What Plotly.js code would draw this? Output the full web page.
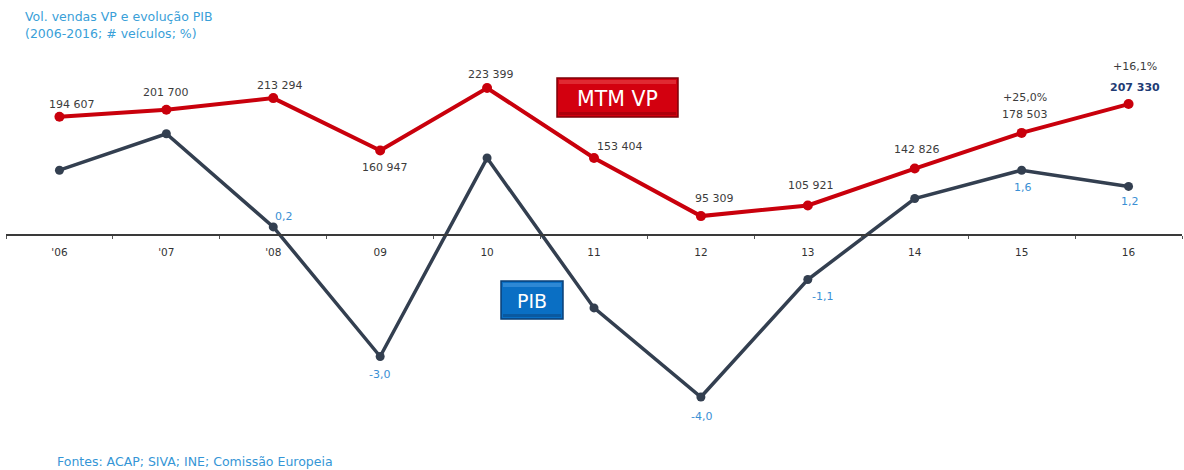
<!DOCTYPE html>
<html>
<head>
<meta charset="utf-8">
<script src="https://cdn.plot.ly/plotly-3.0.1.min.js"></script>
<style>
  html, body { margin: 0; padding: 0; background: #ffffff; }
  #chart { width: 1184px; height: 470px; }
</style>
</head>
<body>
<div id="chart"></div>
<script>
// Passenger-vehicle sales (units) and GDP growth (%), Portugal 2006-2016
const years = ["'06", "'07", "'08", "09", "10", "11", "12", "13", "14", "15", "16"];
const salesVP = [194607, 201700, 213294, 160947, 223399, 153404, 95309, 105921, 142826, 178503, 207330];
const gdpGrowth = [1.6, 2.5, 0.2, -3.0, 1.9, -1.8, -4.0, -1.1, 0.9, 1.6, 1.2];
const gdpLabelled = [false, false, true, true, false, false, true, true, false, true, true];
const growthShown = [false, false, false, false, false, false, false, false, false, true, true];

const titleLines = ["Vol. vendas VP e evolução PIB", "(2006-2016; # veículos; %)"];
const sourceText = "Fontes: ACAP; SIVA; INE; Comissão Europeia";
const salesName = "MTM VP";
const gdpName = "PIB";

// label offsets in pixels [dx, dy] relative to each marker
const salesLabelShift = [[13, 12], [0, 17], [7, 13], [5, -17], [4, 14], [26, 12], [14, 18], [3, 20], [2, 19], [3, 18], [6, 17]];
const growthLabelShift = [0, 0, 0, 0, 0, 0, 0, 0, 0, 35, 38];
const gdpLabelShift = [[0, 0], [0, 0], [11, 10], [-1, -18], [0, 0], [0, 0], [1, -19], [15, -17], [0, 0], [1, -17], [1, -15]];

const W = 1184, H = 470, ML = 6, MR = 2;
const px = x => (x - ML) / (W - ML - MR);
const py = y => 1 - y / H;

const fmtThousands = v => String(v).replace(/\B(?=(\d{3})+(?!\d))/g, ' ');
const fmtPct = v => v.toFixed(1).replace('.', ',');

const FONT = 'DejaVu Sans, Arial, sans-serif';
const RED = '#c9000c';
const NAVY = '#333f50';
const LABEL_BLUE = '#3a8fd4';

const traces = [
  {
    x: years, y: gdpGrowth, yaxis: 'y2', type: 'scatter', mode: 'lines+markers',
    line: { color: NAVY, width: 3.5 },
    marker: { color: NAVY, size: 9 },
    cliponaxis: false, hoverinfo: 'skip'
  },
  {
    x: years, y: salesVP, yaxis: 'y', type: 'scatter', mode: 'lines+markers',
    line: { color: RED, width: 4 },
    marker: { color: RED, size: 10 },
    cliponaxis: false, hoverinfo: 'skip'
  }
];

const annotations = [];

// value labels on the sales line (x given as category index)
years.forEach((yr, i) => {
  const last = i === years.length - 1;
  annotations.push({
    x: i, y: salesVP[i], xref: 'x', yref: 'y',
    text: last ? '<b>' + fmtThousands(salesVP[i]) + '</b>' : fmtThousands(salesVP[i]),
    showarrow: false,
    xshift: salesLabelShift[i][0], yshift: salesLabelShift[i][1],
    font: { family: FONT, size: 11, color: last ? '#1f3c74' : '#3c3c3c' }
  });
  if (growthShown[i]) {
    const g = (salesVP[i] / salesVP[i - 1] - 1) * 100;
    annotations.push({
      x: i, y: salesVP[i], xref: 'x', yref: 'y',
      text: '+' + fmtPct(g) + '%',
      showarrow: false,
      xshift: salesLabelShift[i][0], yshift: growthLabelShift[i],
      font: { family: FONT, size: 11, color: '#3c3c3c' }
    });
  }
});

// value labels on the GDP line
years.forEach((yr, i) => {
  if (!gdpLabelled[i]) return;
  annotations.push({
    x: i, y: gdpGrowth[i], xref: 'x', yref: 'y2',
    text: fmtPct(gdpGrowth[i]),
    showarrow: false,
    xshift: gdpLabelShift[i][0], yshift: gdpLabelShift[i][1],
    font: { family: FONT, size: 11, color: LABEL_BLUE }
  });
});

// heading and source
titleLines.forEach((t, i) => {
  annotations.push({
    x: px(23), y: py(16 + 17 * i), xref: 'paper', yref: 'paper',
    xanchor: 'left', yanchor: 'middle', showarrow: false, text: t,
    font: { family: FONT, size: 12.5, color: '#39a0d8' }
  });
});
annotations.push({
  x: px(55), y: py(461), xref: 'paper', yref: 'paper',
  xanchor: 'left', yanchor: 'middle', showarrow: false, text: sourceText,
  font: { family: FONT, size: 12.5, color: '#3596d6' }
});

// series name badges
function badge(x0, y0, x1, y1, base, light, dark, label, size) {
  const shapes = [
    { type: 'rect', xref: 'paper', yref: 'paper', x0: px(x0), x1: px(x1), y0: py(y0), y1: py(y1),
      fillcolor: base, line: { color: dark, width: 1.5 }, layer: 'above' },
    { type: 'rect', xref: 'paper', yref: 'paper', x0: px(x0 + 2), x1: px(x1 - 2), y0: py(y0 + 2), y1: py(y0 + 6),
      fillcolor: light, opacity: 0.7, line: { width: 0 }, layer: 'above' },
    { type: 'rect', xref: 'paper', yref: 'paper', x0: px(x0 + 2), x1: px(x1 - 2), y0: py(y1 - 5), y1: py(y1 - 2),
      fillcolor: dark, opacity: 0.45, line: { width: 0 }, layer: 'above' }
  ];
  annotations.push({
    x: px((x0 + x1) / 2), y: py((y0 + y1) / 2 + 1), xref: 'paper', yref: 'paper',
    xanchor: 'center', yanchor: 'middle', showarrow: false, text: label,
    font: { family: FONT, size: size, color: '#ffffff' }
  });
  return shapes;
}

const shapes = [].concat(
  badge(557, 78, 678, 117, '#d3000f', '#e53a42', '#7e0008', salesName, 20.5),
  badge(501, 281, 563, 319, '#0a6fc4', '#3d93dc', '#0a3f75', gdpName, 19)
);

const layout = {
  width: W, height: H,
  margin: { l: ML, r: MR, t: 0, b: 0, pad: 0 },
  paper_bgcolor: '#ffffff', plot_bgcolor: '#ffffff',
  showlegend: false,
  font: { family: FONT },
  xaxis: {
    type: 'category', range: [-0.5, years.length - 0.5],
    anchor: 'free', position: 0.5,
    showline: true, linecolor: '#3a3a3a', linewidth: 2,
    ticks: 'outside', ticklen: 3, tickwidth: 1, tickcolor: '#555555',
    tickson: 'boundaries', ticklabelstandoff: 7,
    showgrid: false, zeroline: false,
    tickfont: { family: FONT, size: 10.5, color: '#333333' }
  },
  yaxis: {
    range: [-158601, 311399], visible: false, showgrid: false, zeroline: false, fixedrange: true
  },
  yaxis2: {
    range: [-235 / 40.5, 235 / 40.5], overlaying: 'y', visible: false,
    showgrid: false, zeroline: false
  },
  annotations: annotations,
  shapes: shapes
};

Plotly.newPlot('chart', traces, layout, { staticPlot: true, displayModeBar: false });
</script>
</body>
</html>
